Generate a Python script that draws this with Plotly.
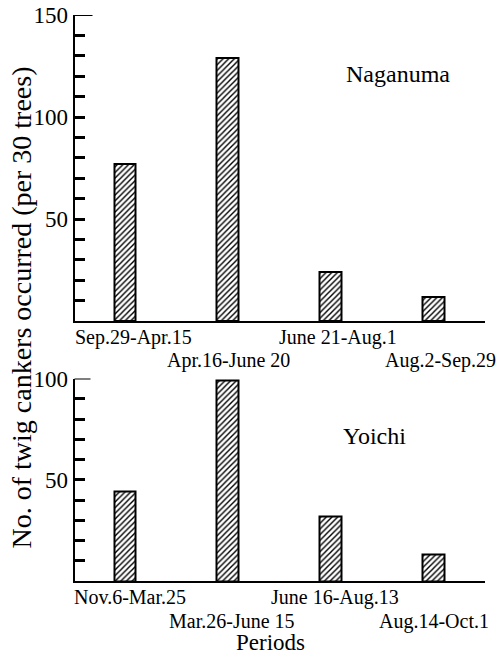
import plotly.graph_objects as go

# Twig canker counts per 30 trees, by observation period
periods_naganuma = ["Sep.29-Apr.15", "Apr.16-June 20", "June 21-Aug.1", "Aug.2-Sep.29"]
cankers_naganuma = [77, 129, 24, 12]

periods_yoichi = ["Nov.6-Mar.25", "Mar.26-June 15", "June 16-Aug.13", "Aug.14-Oct.1"]
cankers_yoichi = [44, 99, 32, 13]

labelled_ticks_naganuma = [50, 100, 150]
labelled_ticks_yoichi = [50, 100]
tick_step = 10

W, H = 496, 654
FONT = "Liberation Serif"


def px_x(p):
    return p / W


def px_y(p):
    return 1 - p / H


x_left, x_right = 74.5, 485
top_y0, top_y1 = 321, 15      # baseline / top of the Naganuma panel (px)
bot_y0, bot_y1 = 581, 378.5   # baseline / top of the Yoichi panel (px)

fig = go.Figure()

bar_style = dict(
    width=0.21,
    marker=dict(
        color="white",
        line=dict(color="black", width=2),
        pattern=dict(shape="/", fgcolor="black", bgcolor="white", size=4, solidity=0.35),
    ),
    showlegend=False,
    hoverinfo="skip",
)

positions = list(range(len(periods_naganuma)))
fig.add_trace(go.Bar(x=positions, y=cankers_naganuma, xaxis="x", yaxis="y", **bar_style))
fig.add_trace(go.Bar(x=positions, y=cankers_yoichi, xaxis="x2", yaxis="y2", **bar_style))


def y_axis(domain, top, labelled, anchor):
    vals = list(range(tick_step, top + 1, tick_step))
    return dict(
        domain=domain,
        range=[0, top],
        anchor=anchor,
        tickmode="array",
        tickvals=vals,
        ticktext=[str(v) if v in labelled else "" for v in vals],
        ticks="inside",
        ticklen=10,
        tickwidth=2.5,
        tickcolor="black",
        showline=True,
        linewidth=2,
        linecolor="black",
        showgrid=False,
        zeroline=False,
        automargin=False,
        tickfont=dict(family=FONT, size=23, color="black"),
        fixedrange=True,
    )


def x_axis(anchor):
    return dict(
        domain=[px_x(x_left), px_x(x_right)],
        range=[-0.49, 3.5],
        anchor=anchor,
        showline=True,
        linewidth=2,
        linecolor="black",
        showticklabels=False,
        ticks="",
        showgrid=False,
        zeroline=False,
        automargin=False,
        fixedrange=True,
    )


fig.update_layout(
    template="none",
    width=W,
    height=H,
    autosize=False,
    margin=dict(l=0, r=0, t=0, b=0, pad=0, autoexpand=False),
    paper_bgcolor="white",
    plot_bgcolor="white",
    bargap=0,
    xaxis=x_axis("y"),
    yaxis=y_axis([px_y(top_y0), px_y(top_y1)], 150, labelled_ticks_naganuma, "x"),
    xaxis2=x_axis("y2"),
    yaxis2=y_axis([px_y(bot_y0), px_y(bot_y1)], 100, labelled_ticks_yoichi, "x2"),
)

# Longer cap tick at the top of each value axis
fig.add_shape(type="line", xref="paper", yref="y", x0=px_x(x_left), x1=px_x(x_left + 18),
              y0=150, y1=150, line=dict(color="black", width=2))
fig.add_shape(type="line", xref="paper", yref="y2", x0=px_x(x_left), x1=px_x(x_left + 16),
              y0=100, y1=100, line=dict(color="black", width=2))

annotations = []

# Period labels, staggered on two rows under each panel
label_font = dict(family=FONT, size=20, color="black")
shifts_top = [9, 1, 7, 7]
shifts_bot = [5, 4, 4, 0]
for i, name in enumerate(periods_naganuma):
    row = top_y0 + (16 if i % 2 == 0 else 39)
    annotations.append(dict(text=name, x=i, xref="x", y=px_y(row), yref="paper",
                            xanchor="center", yanchor="middle", showarrow=False,
                            xshift=shifts_top[i], font=label_font))
for i, name in enumerate(periods_yoichi):
    row = bot_y0 + (16 if i % 2 == 0 else 40)
    annotations.append(dict(text=name, x=i, xref="x2", y=px_y(row), yref="paper",
                            xanchor="center", yanchor="middle", showarrow=False,
                            xshift=shifts_bot[i], font=label_font))

# Site names
annotations.append(dict(text="Naganuma", x=px_x(397.5), y=px_y(74), xref="paper", yref="paper",
                        xanchor="center", yanchor="middle", showarrow=False,
                        font=dict(family=FONT, size=24, color="black")))
annotations.append(dict(text="Yoichi", x=px_x(374), y=px_y(436), xref="paper", yref="paper",
                        xanchor="center", yanchor="middle", showarrow=False,
                        font=dict(family=FONT, size=24, color="black")))

# Shared axis titles
annotations.append(dict(text="Periods", x=px_x(270.5), y=px_y(642), xref="paper", yref="paper",
                        xanchor="center", yanchor="middle", showarrow=False,
                        font=dict(family=FONT, size=23, color="black")))
annotations.append(dict(text="No. of twig cankers occurred (per 30 trees)", x=px_x(21), y=px_y(307.5),
                        xref="paper", yref="paper", xanchor="center", yanchor="middle",
                        textangle=-90, showarrow=False,
                        font=dict(family=FONT, size=28, color="black")))

fig.update_layout(annotations=annotations)

fig.write_html("out.html")
